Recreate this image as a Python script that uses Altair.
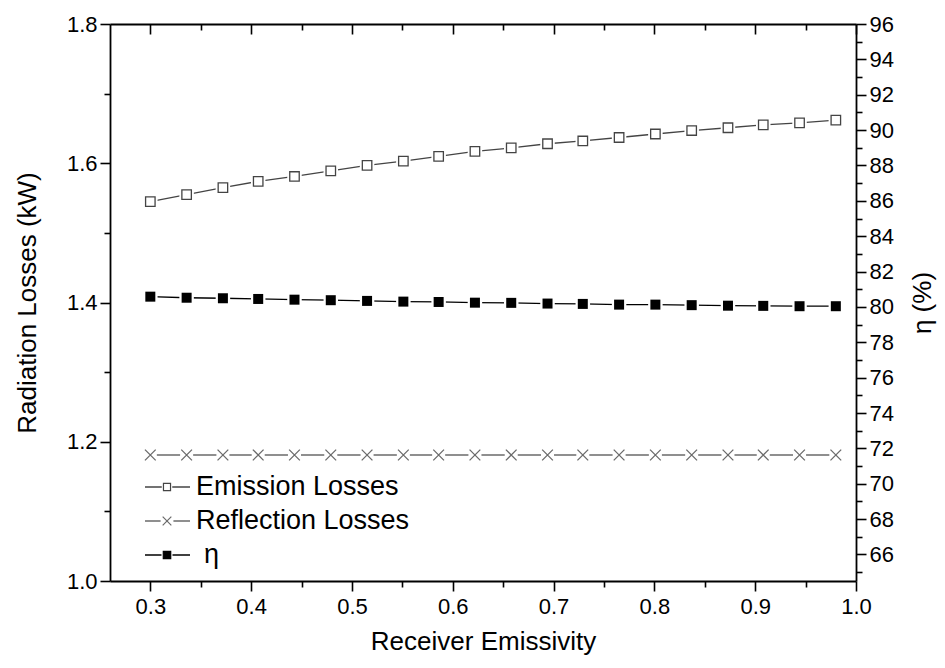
import altair as alt
import pandas as pd

# ---------------- data ----------------
emissivity = [0.300, 0.336, 0.372, 0.407, 0.443, 0.479, 0.515, 0.551, 0.586, 0.622,
              0.658, 0.694, 0.729, 0.765, 0.801, 0.837, 0.873, 0.908, 0.944, 0.980]
emission_losses = [1.545, 1.555, 1.565, 1.574, 1.581, 1.589, 1.597, 1.603, 1.610, 1.617,
                   1.622, 1.628, 1.632, 1.637, 1.642, 1.647, 1.651, 1.655, 1.658, 1.662]
reflection_losses = [1.181, 1.181, 1.181, 1.181, 1.181, 1.181, 1.181, 1.181, 1.181, 1.181,
                     1.181, 1.181, 1.181, 1.181, 1.181, 1.181, 1.181, 1.181, 1.181, 1.181]
eta = [80.58, 80.52, 80.49, 80.45, 80.41, 80.38, 80.34, 80.30, 80.28, 80.24,
       80.23, 80.19, 80.17, 80.13, 80.13, 80.10, 80.07, 80.06, 80.04, 80.04]

x_major = [0.3, 0.4, 0.5, 0.6, 0.7, 0.8, 0.9, 1.0]
x_minor = [0.35, 0.45, 0.55, 0.65, 0.75, 0.85, 0.95]
yl_major = [1.0, 1.2, 1.4, 1.6, 1.8]
yl_minor = [1.1, 1.3, 1.5, 1.7]
yr_major = [66, 68, 70, 72, 74, 76, 78, 80, 82, 84, 86, 88, 90, 92, 94, 96]
yr_minor = [65, 67, 69, 71, 73, 75, 77, 79, 81, 83, 85, 87, 89, 91, 93, 95]

legend_labels = ["Emission Losses", "Reflection Losses", "η"]

df = pd.DataFrame({"x": emissivity, "em": emission_losses,
                   "re": reflection_losses, "eta": eta})
one = pd.DataFrame({"a": [0]})

W, H = 746, 557
FONT = "Liberation Sans"
XDOM = [0.26, 1.0]
YLDOM = [1.0, 1.8]
YRDOM = [64.5, 96]

MAJ, MIN = 10, 6


def X(axis=None):
    return alt.X("x:Q", scale=alt.Scale(domain=XDOM, nice=False, zero=False), axis=axis)


def YL(field, axis=None):
    return alt.Y(f"{field}:Q", scale=alt.Scale(domain=YLDOM, nice=False, zero=False), axis=axis)


def YR(field, axis=None):
    return alt.Y(f"{field}:Q", scale=alt.Scale(domain=YRDOM, nice=False, zero=False), axis=axis)


ax_x_major = alt.Axis(values=x_major, format=".1f", title="Receiver Emissivity",
                      tickSize=MAJ, labelPadding=5, titlePadding=11, orient="bottom")
ax_x_minor = alt.Axis(values=x_minor, labels=False, title=None, tickSize=MIN,
                      domain=False, orient="bottom")
ax_x_top_major = alt.Axis(values=x_major, labels=False, title=None, tickSize=MAJ,
                          orient="bottom", offset=-H)
ax_x_top_minor = alt.Axis(values=x_minor, labels=False, title=None, tickSize=MIN,
                          domain=False, orient="bottom", offset=-H)
ax_yl_major = alt.Axis(values=yl_major, format=".1f", title="Radiation Losses (kW)",
                       tickSize=MAJ, labelPadding=3, titlePadding=26, orient="left")
ax_yl_minor = alt.Axis(values=yl_minor, labels=False, title=None, tickSize=MIN,
                       domain=False, orient="left")
ax_yr_major = alt.Axis(values=yr_major, format="d", title="η (%)", titleAngle=270,
                       tickSize=MAJ, labelPadding=3, titlePadding=42, orient="right")
ax_yr_minor = alt.Axis(values=yr_minor, labels=False, title=None, tickSize=MIN,
                       domain=False, orient="right")

EM_C = "#444444"
RE_C = "#6a6a6a"
ETA_C = "#000000"

base = alt.Chart(df)

# Emission losses
em_line = base.mark_line(color=EM_C, strokeWidth=1.3).encode(
    x=X(ax_x_major), y=YL("em", ax_yl_major))
em_mask = base.mark_point(shape="square", filled=True, color="white", opacity=1, size=210).encode(
    x=X(ax_x_minor), y=YL("em", ax_yl_minor))
em_pts = base.mark_point(shape="square", filled=True, fill="white", stroke=EM_C,
                         strokeWidth=1.3, opacity=1, size=90).encode(
    x=X(ax_x_top_major), y=YL("em"))

# Reflection losses
re_line = base.mark_line(color=RE_C, strokeWidth=1.3).encode(
    x=X(ax_x_top_minor), y=YL("re"))
re_mask = base.mark_point(shape="square", filled=True, color="white", opacity=1, size=170).encode(
    x=X(), y=YL("re"))
re_pts = base.mark_point(shape="M-1,-1L1,1M-1,1L1,-1", filled=False, stroke=RE_C,
                         strokeWidth=1.3, opacity=1, size=115).encode(
    x=X(), y=YL("re"))

# Efficiency
eta_line = base.mark_line(color=ETA_C, strokeWidth=1.3).encode(
    x=X(), y=YR("eta", ax_yr_major))
eta_mask = base.mark_point(shape="square", filled=True, color="white", opacity=1, size=210).encode(
    x=X(), y=YR("eta", ax_yr_minor))
eta_pts = base.mark_point(shape="square", filled=True, color=ETA_C, opacity=1, size=100).encode(
    x=X(), y=YR("eta"))

# Legend (inside plot, lower left)
leg = alt.Chart(one)
LX1, LX2, LXM, LXT = 35, 80, 57, 86
rows_y = [463, 497, 531]
leg_layers = []
styles = [
    dict(color=EM_C, shape="square", filled=True, fill="white", stroke=EM_C, size=50),
    dict(color=RE_C, shape="M-1,-1L1,1M-1,1L1,-1", filled=False, stroke=RE_C, size=75),
    dict(color=ETA_C, shape="square", filled=True, fill=ETA_C, stroke=ETA_C, size=55),
]
for lab, yy, st in zip(legend_labels, rows_y, styles):
    leg_layers.append(leg.mark_rule(color=st["color"], strokeWidth=1.3).encode(
        x=alt.value(LX1), x2=alt.value(LX2), y=alt.value(yy)))
    leg_layers.append(leg.mark_point(shape="square", filled=True, color="white", opacity=1,
                                     size=st["size"] * 2.2).encode(
        x=alt.value(LXM), y=alt.value(yy)))
    if st["filled"]:
        leg_layers.append(leg.mark_point(shape=st["shape"], filled=True, fill=st["fill"],
                                         stroke=st["stroke"], strokeWidth=1.2, opacity=1,
                                         size=st["size"]).encode(
            x=alt.value(LXM), y=alt.value(yy)))
    else:
        leg_layers.append(leg.mark_point(shape=st["shape"], filled=False, stroke=st["stroke"],
                                         strokeWidth=1.2, opacity=1,
                                         size=st["size"]).encode(
            x=alt.value(LXM), y=alt.value(yy)))
    leg_layers.append(leg.mark_text(align="left", baseline="middle", font=FONT, fontSize=27,
                                    color="black").encode(
        x=alt.value(LXT if lab != "η" else LXT + 8), y=alt.value(yy), text=alt.value(lab)))

chart = alt.layer(
    em_line, re_line, eta_line,
    em_mask, re_mask, eta_mask,
    em_pts, re_pts, eta_pts,
    *leg_layers
).resolve_scale(
    x="independent", y="independent"
).properties(
    width=W, height=H,
    autosize=alt.AutoSizeParams(type="none"),
    padding={"left": 102, "top": 16, "right": 81, "bottom": 78},
).configure_view(
    stroke=None
).configure_axis(
    labelFont=FONT, titleFont=FONT, labelFontSize=22, titleFontSize=26,
    labelColor="black", titleColor="black", titleFontWeight="normal",
    domainColor="black", tickColor="black", domainWidth=1.8, tickWidth=1.6,
    grid=False, labelFlush=False, labelOverlap=False,
)

chart.save("out.html", embed_options={"renderer": "svg", "actions": False})
